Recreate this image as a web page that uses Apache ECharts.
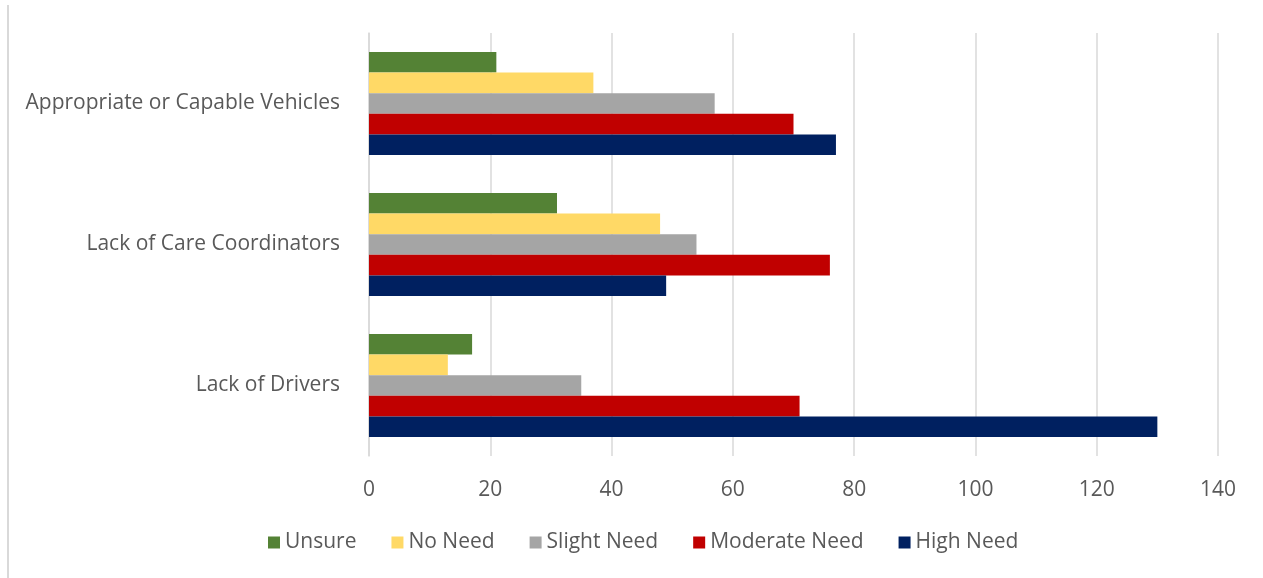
<!DOCTYPE html>
<html>
<head>
<meta charset="utf-8">
<script src="https://cdn.jsdelivr.net/npm/echarts@6/dist/echarts.min.js"></script>
<style>
  html, body { margin: 0; padding: 0; background: #fff; }
  #chart { width: 1263px; height: 578px; }
</style>
</head>
<body>
<div id="chart"></div>
<script>
// Categories listed bottom-to-top along the vertical axis
const categories = ['Lack of Drivers', 'Lack of Care Coordinators', 'Appropriate or Capable Vehicles'];

const seriesNames = ['Unsure', 'No Need', 'Slight Need', 'Moderate Need', 'High Need'];
const seriesColors = ['#548235', '#FFD966', '#A5A5A5', '#C00000', '#002060'];

// Values per series, in the same order as categories
const unsure       = [17, 31, 21];
const noNeed       = [13, 48, 37];
const slightNeed   = [35, 54, 57];
const moderateNeed = [71, 76, 70];
const highNeed     = [130, 49, 77];

const xTicks = [0, 20, 40, 60, 80, 100, 120, 140];

const values = [unsure, noNeed, slightNeed, moderateNeed, highNeed];
const FONT = '"Open Sans", "Noto Sans", sans-serif';

const chart = echarts.init(document.getElementById('chart'), null, { renderer: 'canvas' });

// "Unsure" sits on top of each group and "High Need" at the bottom
const series = seriesNames.map((name, i) => ({
  name: name,
  type: 'bar',
  data: values[i],
  itemStyle: { color: seriesColors[i] },
  barGap: '0%',
  barCategoryGap: '27%'
}));

chart.setOption({
  animation: false,
  backgroundColor: '#ffffff',
  grid: { left: 369, right: 45, top: 33, bottom: 122, containLabel: false },
  legend: {
    data: seriesNames,
    bottom: 20,
    left: 263,
    itemWidth: 12,
    itemHeight: 12,
    itemGap: 35,
    icon: 'rect',
    textStyle: { color: '#595959', fontSize: 21, fontFamily: FONT }
  },
  xAxis: {
    type: 'value',
    min: xTicks[0],
    max: xTicks[xTicks.length - 1],
    interval: 20,
    axisLine: { show: false },
    axisTick: { show: false },
    splitLine: { show: true, lineStyle: { color: '#D9D9D9', width: 1.5 } },
    axisLabel: { color: '#595959', fontSize: 21, fontFamily: FONT, margin: 24 }
  },
  yAxis: {
    type: 'category',
    data: categories,
    axisLine: { show: true, lineStyle: { color: '#D9D9D9', width: 1.5 } },
    axisTick: { show: false },
    axisLabel: { color: '#595959', fontSize: 21, fontFamily: FONT, margin: 29 }
  },
  graphic: [{
    type: 'line',
    shape: { x1: 8, y1: 5, x2: 8, y2: 578 },
    style: { stroke: '#D9D9D9', lineWidth: 2 }
  }],
  series: series
});
</script>
</body>
</html>
